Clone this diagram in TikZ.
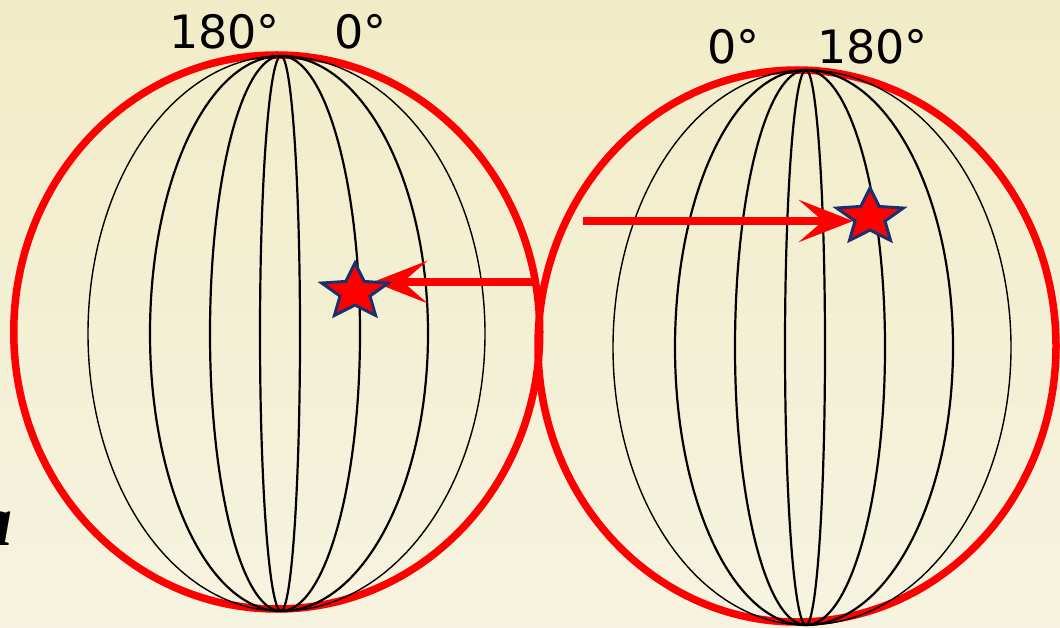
\documentclass[tikz,border=0pt]{standalone}
\usepackage{fontspec}
\setmainfont{DejaVu Sans}
\newfontfamily\serifbi{Liberation Serif}
\usetikzlibrary{arrows.meta}
\definecolor{bgtop}{RGB}{241,236,199}
\definecolor{bgmid}{RGB}{249,247,233}
\definecolor{bgbot}{RGB}{246,243,224}
\definecolor{navy}{RGB}{25,50,110}
\begin{document}
\begin{tikzpicture}[x=1pt,y=-1pt,
  meridian/.style={black, line width=2.2pt},
  outermer/.style={black, line width=1.4pt},
  rim/.style={red, line width=7.5pt},
  redarrow/.style={red, line width=8pt, -{Stealth[length=54pt,width=42pt,inset=24pt]}},
  starstyle/.style={fill=red, draw=navy, line width=3pt, line join=miter},
  lab/.style={font=\fontsize{46}{46}\selectfont, inner sep=0pt, anchor=base west}]

\fill[top color=bgtop, middle color=bgmid, bottom color=bgbot] (0,0) rectangle (1060,628);
\useasboundingbox (0,0) rectangle (1060,628);

% red rims
\draw[rim] (276.75,332) ellipse[x radius=263, y radius=277];
\draw[rim] (797,346) ellipse[x radius=259, y radius=276];

% poles
\coordinate (Lpole) at (281,56);
\coordinate (Rpole) at (806,70);

% meridians
\foreach \o in {131,71,21} {
  \draw[meridian] (Lpole) arc[start angle=270, end angle=90, x radius=\o, y radius=277.5];
  \draw[meridian] (Rpole) arc[start angle=270, end angle=90, x radius=\o, y radius=277.5];
}
\foreach \o in {19,79,147} {
  \draw[meridian] (Lpole) arc[start angle=-90, end angle=90, x radius=\o, y radius=277.5];
  \draw[meridian] (Rpole) arc[start angle=-90, end angle=90, x radius=\o, y radius=277.5];
}
\draw[outermer] (Lpole) arc[start angle=270, end angle=90, x radius=193, y radius=277.5];
\draw[outermer] (Lpole) arc[start angle=-90, end angle=90, x radius=204, y radius=277.5];
\draw[outermer] (Rpole) arc[start angle=270, end angle=90, x radius=193, y radius=277.5];
\draw[outermer] (Rpole) arc[start angle=-90, end angle=90, x radius=205, y radius=277.5];

% labels
\node[lab] (l180) at (169,49) {180°};
\node[lab] (l0) at (334,49) {0°};
\node[lab] (r0) at (707,64) {0°};
\node[lab] (r180) at (817,64) {180°};
\node[anchor=base east, inner sep=0pt, font=\serifbi\bfseries\itshape\fontsize{72}{72}\selectfont] (alabel) at (13,545) {a};

% arrows
\coordinate (arrLstart) at (538,282);
\coordinate (tipL) at (373,282);
\coordinate (arrRstart) at (583,221);
\coordinate (tipR) at (853,221);
\draw[redarrow] (arrLstart) -- (tipL);
\draw[redarrow] (arrRstart) -- (tipR);

% stars
\coordinate (starL) at (355,291);
\coordinate (starR) at (870,216);
\draw[starstyle] plot[samples at={0,...,9}] ({355+ifthenelse(mod(\x,2)==0,1,0.45)*35*cos(90+36*\x)}, {292-ifthenelse(mod(\x,2)==0,1,0.45)*29*sin(90+36*\x)}) -- cycle;
\draw[starstyle] plot[samples at={0,...,9}] ({870+ifthenelse(mod(\x,2)==0,1,0.45)*35*cos(90+36*\x)}, {217-ifthenelse(mod(\x,2)==0,1,0.45)*29*sin(90+36*\x)}) -- cycle;
\end{tikzpicture}
\end{document}
